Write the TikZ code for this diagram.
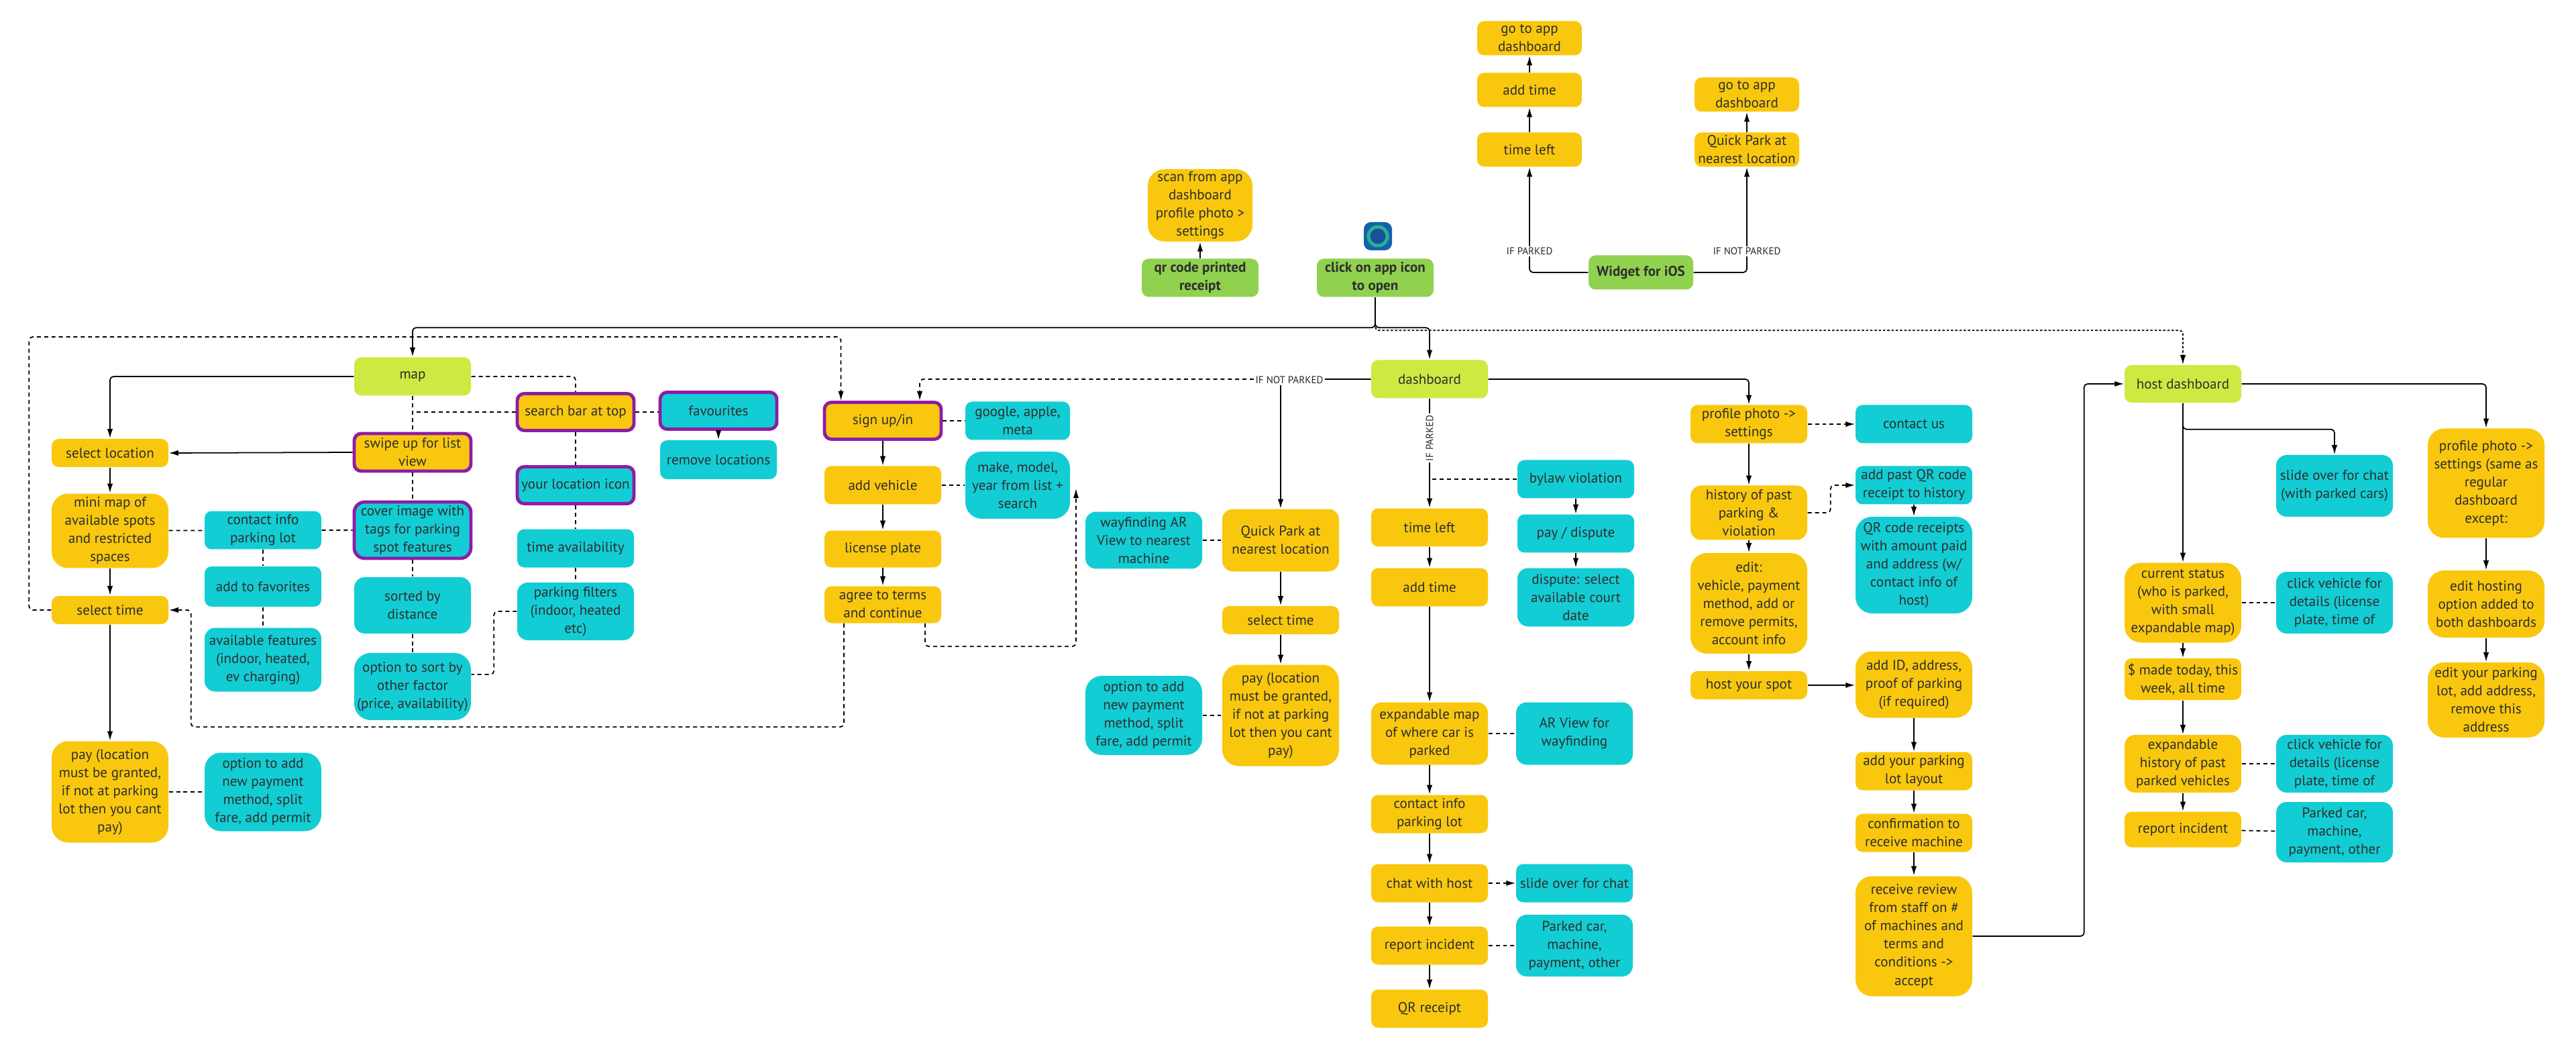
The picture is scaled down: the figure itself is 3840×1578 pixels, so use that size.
\documentclass[tikz,border=0pt]{standalone}
\usepackage{fontspec}
\setmainfont{PT Sans}
\usepackage{xcolor}
\usetikzlibrary{arrows.meta,calc}
\definecolor{yel}{HTML}{F9C80E}
\definecolor{cyn}{HTML}{13CDD4}
\definecolor{lim}{HTML}{D0E842}
\definecolor{grn}{HTML}{90D24F}
\definecolor{prp}{HTML}{8E1CA8}
\definecolor{icb}{HTML}{1262AC}
\definecolor{icr}{HTML}{27B28E}
\definecolor{ici}{HTML}{1B4F9B}

\begin{document}
\begin{tikzpicture}[x=0.1mm,y=-0.1mm,
	box/.style={rounded corners=3pt,minimum width=17.4mm,align=center,inner sep=1pt,text=black!82,font=\fontsize{6pt}{7.7pt}\selectfont},
	yb/.style={box,fill=yel},
	cb/.style={box,fill=cyn},
	lb/.style={box,fill=lim},
	gb/.style={box,fill=grn,font=\bfseries\fontsize{6pt}{7.7pt}\selectfont},
	pb/.style={draw=prp,line width=1.4pt},
	mid/.style={rounded corners=4.5pt},
	tall/.style={rounded corners=7pt},
	nar/.style={minimum width=15.6mm},
	arr/.style={-{Latex[length=4pt,width=2.4pt]},line width=0.5pt,rounded corners=1.5pt},
	dsh/.style={line width=0.5pt,dash pattern=on 1.7pt off 1.4pt,rounded corners=1.5pt},
	dot/.style={line width=0.5pt,dash pattern=on 1pt off 0.8pt,rounded corners=1.5pt},
	lbl/.style={fill=white,inner sep=0.6pt,text=black!85,font=\fontsize{4.3pt}{5pt}\selectfont}]
	\useasboundingbox (0,0) rectangle (3840,1578);
	\node[yb,nar,tall,minimum height=10.1mm] (scan) at (1789,306) {scan from app\\dashboard\\profile photo >\\settings};
	\node[gb,minimum height=5.7mm] (qr) at (1789,414) {qr code printed\\receipt};
	\node[gb,minimum height=5.7mm] (click) at (2050,414) {click on app icon\\to open};
	\node[rounded corners=3pt,fill=icb,minimum size=4.2mm,inner sep=0pt] (icon) at (2054,352) {};
	\fill[icr] (icon.center) circle (1.65mm);
	\fill[ici] (icon.center) circle (1.15mm);
	\node[yb,nar,minimum height=5.1mm] (goapp1) at (2280,57) {go to app\\dashboard};
	\node[yb,nar,minimum height=5.1mm] (addtime1) at (2280,134) {add time};
	\node[yb,nar,minimum height=5.1mm] (tleft1) at (2280,223) {time left};
	\node[yb,nar,minimum height=5.1mm] (goapp2) at (2604,141) {go to app\\dashboard};
	\node[yb,nar,minimum height=5.1mm] (qpark1) at (2604,223) {Quick Park at\\nearest location};
	\node[gb,nar,minimum height=5.1mm] (widget) at (2446,406) {Widget for iOS};

	\node[lb,minimum height=5.7mm] (map) at (615,561) {map};
	\node[yb,minimum height=4.2mm] (selloc) at (164,675) {select location};
	\node[yb,pb,minimum height=5.6mm] (swipe) at (615,674) {swipe up for list\\view};
	\node[yb,pb,minimum height=5.5mm] (search) at (858,614) {search bar at top};
	\node[cb,pb,minimum height=5.5mm] (fav) at (1071,612) {favourites};
	\node[cb,minimum height=5.8mm] (remloc) at (1071,685) {remove locations};
	\node[cb,pb,minimum height=5.5mm] (yourloc) at (858,723) {your location icon};
	\node[cb,minimum height=5.7mm] (timeav) at (858,817) {time availability};
	\node[cb,mid,minimum height=8.6mm] (filters) at (858,911) {parking filters\\(indoor, heated\\etc)};
	\node[yb,tall,minimum height=11.1mm] (minimap) at (164,791) {mini map of\\available spots\\and restricted\\spaces};
	\node[cb,minimum height=5.7mm] (contact1) at (392,790) {contact info\\parking lot};
	\node[cb,pb,mid,minimum height=8.4mm] (cover) at (615,790) {cover image with\\tags for parking\\spot features};
	\node[cb,minimum height=6mm] (addfav) at (392,874) {add to favorites};
	\node[cb,mid,minimum height=8.4mm] (sorted) at (615,902) {sorted by\\distance};
	\node[yb,minimum height=4.2mm] (seltime1) at (164,909) {select time};
	\node[cb,mid,minimum height=9.5mm] (features) at (392,983) {available features\\(indoor, heated,\\ev charging)};
	\node[cb,tall,minimum height=10mm] (sortopt) at (615,1023) {option to sort by\\other factor\\(price, availability)};
	\node[yb,tall,minimum height=15.1mm] (pay1) at (164,1180) {pay (location\\must be granted,\\if not at parking\\lot then you cant\\pay)};
	\node[cb,tall,minimum height=11.7mm] (payopt1) at (392,1180) {option to add\\new payment\\method, split\\fare, add permit};

	\node[yb,pb,minimum height=5.5mm] (signup) at (1316,627) {sign up/in};
	\node[cb,nar,minimum height=5.7mm] (google) at (1517,627) {google, apple,\\meta};
	\node[yb,minimum height=5.7mm] (vehicle) at (1316,723) {add vehicle};
	\node[cb,nar,tall,minimum height=10mm] (make) at (1517,723) {make, model,\\year from list +\\search};
	\node[yb,minimum height=5.5mm] (plate) at (1316,818) {license plate};
	\node[yb,minimum height=5.5mm] (agree) at (1316,901) {agree to terms\\and continue};
	\node[cb,mid,minimum height=8.5mm] (wayfind) at (1705,805) {wayfinding AR\\View to nearest\\machine};
	\node[yb,mid,minimum height=9.3mm] (qpark2) at (1909,805) {Quick Park at\\nearest location};
	\node[yb,minimum height=4.2mm] (seltime2) at (1909,924) {select time};
	\node[yb,tall,minimum height=15.1mm] (pay2) at (1909,1066) {pay (location\\must be granted,\\if not at parking\\lot then you cant\\pay)};
	\node[cb,tall,minimum height=11.8mm] (payopt2) at (1705,1066) {option to add\\new payment\\method, split\\fare, add permit};

	\node[lb,minimum height=5.7mm] (dash) at (2131,565) {dashboard};
	\node[yb,minimum height=5.7mm] (tleft2) at (2131,786) {time left};
	\node[yb,minimum height=5.7mm] (addtime2) at (2131,875) {add time};
	\node[cb,minimum height=5.7mm] (bylaw) at (2349,714) {bylaw violation};
	\node[cb,minimum height=5.7mm] (paydisp) at (2349,795) {pay / dispute};
	\node[cb,mid,minimum height=8.7mm] (dispute) at (2349,890) {dispute: select\\available court\\date};
	\node[yb,mid,minimum height=9.3mm] (expmap) at (2131,1093) {expandable map\\of where car is\\parked};
	\node[cb,mid,minimum height=9.3mm] (arview) at (2347,1093) {AR View for\\wayfinding};
	\node[yb,minimum height=5.7mm] (contact2) at (2131,1213) {contact info\\parking lot};
	\node[yb,minimum height=5.7mm] (chat) at (2131,1316) {chat with host};
	\node[cb,minimum height=5.7mm] (slide1) at (2347,1316) {slide over for chat};
	\node[yb,minimum height=5.7mm] (report1) at (2131,1409) {report incident};
	\node[cb,mid,minimum height=9.2mm] (parked1) at (2347,1409) {Parked car,\\machine,\\payment, other};
	\node[yb,minimum height=5.7mm] (qrrec) at (2131,1503) {QR receipt};

	\node[yb,minimum height=5.7mm] (profile) at (2607,632) {profile photo ->\\settings};
	\node[cb,minimum height=5.7mm] (contactus) at (2853,632) {contact us};
	\node[yb,mid,minimum height=8.1mm] (history) at (2607,764) {history of past\\parking \&\\violation};
	\node[cb,minimum height=5.7mm] (addpast) at (2853,723) {add past QR code\\receipt to history};
	\node[cb,tall,minimum height=14.4mm] (qrcodes) at (2853,842) {QR code receipts\\with amount paid\\and address (w/\\contact info of\\host)};
	\node[yb,tall,minimum height=15mm] (edit) at (2607,899) {edit:\\vehicle, payment\\method, add or\\remove permits,\\account info};
	\node[yb,minimum height=4.2mm] (hostspot) at (2607,1021) {host your spot};
	\node[yb,tall,minimum height=9.9mm] (addid) at (2853,1020) {add ID, address,\\proof of parking\\(if required)};
	\node[yb,minimum height=5.7mm] (layout) at (2853,1149) {add your parking\\lot layout};
	\node[yb,minimum height=5.7mm] (confirm) at (2853,1241) {confirmation to\\receive machine};
	\node[yb,tall,minimum height=17.9mm] (review) at (2853,1395) {receive review\\from staff on \#\\of machines and\\terms and\\conditions ->\\accept};

	\node[lb,minimum height=5.6mm] (host) at (3254,572) {host dashboard};
	\node[cb,mid,minimum height=9.2mm] (slide2) at (3480,724) {slide over for chat\\(with parked cars)};
	\node[yb,tall,minimum height=16.3mm] (profile2) at (3706,720) {profile photo ->\\settings (same as\\regular\\dashboard\\except:};
	\node[yb,tall,minimum height=11.9mm] (current) at (3254,898) {current status\\(who is parked,\\with small\\expandable map)};
	\node[cb,mid,minimum height=9.2mm] (click1) at (3480,898) {click vehicle for\\details (license\\plate, time of};
	\node[yb,tall,minimum height=10mm] (edithost) at (3706,900) {edit hosting\\option added to\\both dashboards};
	\node[yb,minimum height=6.2mm] (made) at (3254,1012) {\$ made today, this\\week, all time};
	\node[yb,tall,minimum height=11.2mm] (editlot) at (3706,1043) {edit your parking\\lot, add address,\\remove this\\address};
	\node[yb,mid,minimum height=8.6mm] (exphist) at (3254,1138) {expandable\\history of past\\parked vehicles};
	\node[cb,mid,minimum height=8.6mm] (click2) at (3480,1138) {click vehicle for\\details (license\\plate, time of};
	\node[yb,minimum height=5.3mm] (report2) at (3254,1236) {report incident};
	\node[cb,mid,minimum height=9mm] (parked2) at (3480,1240) {Parked car,\\machine,\\payment, other};

	\coordinate (mkend) at (1604,728);

	\draw[arr] (qr) -- (scan);
	\draw[arr] (tleft1) -- (addtime1);
	\draw[arr] (addtime1) -- (goapp1);
	\draw[arr] (qpark1) -- (goapp2);
	\draw[arr] (widget.west) -| (tleft1.south) node[lbl,pos=0.6] {IF PARKED};
	\draw[arr] (widget.east) -| (qpark1.south) node[lbl,pos=0.6] {IF NOT PARKED};
	\draw[arr] (click.south) -- ++(0,45) -| (map.north);
	\draw[arr] (click.south) -- ++(0,45) -| (dash.north);
	\draw[dot,arr] (click.south) -- ++(0,49) -| (host.north);

	\draw[arr] (map.west) -| (selloc.north);
	\draw[arr] (swipe.west) -- (selloc.east);
	\draw[arr] (selloc) -- (minimap);
	\draw[arr] (minimap) -- (seltime1);
	\draw[arr] (seltime1) -- (pay1);
	\draw[dsh] (map) -- (swipe) -- (cover) -- (sorted) -- (sortopt);
	\draw[dsh] (map.east) -| (search.north);
	\draw[dsh] (search.west) -- (search.west -| map.south);
	\draw[dsh] (search) -- (yourloc) -- (timeav) -- (filters);
	\draw[dsh] (search.east) -- (fav.west |- search.east);
	\draw[arr] (fav) -- (remloc);
	\draw[dsh] (filters.west) -- ++(-34,0) |- ([yshift=1.8mm]sortopt.east);
	\draw[dsh] (minimap) -- (contact1) -- (cover);
	\draw[dsh] (contact1) -- (addfav) -- (features);
	\draw[dsh] (pay1) -- (payopt1);
	\draw[dsh,arr] ([xshift=-5.8mm]agree.south) -- ++(0,154) -| ($(seltime1.east)+(33,0)$) -- (seltime1.east);
	\draw[dsh,arr] ([xshift=6.3mm]agree.south) -- ++(0,34) -| (mkend);
	\draw[dsh,arr] (seltime1.west) -- ++(-33,0) |- ($(signup.north west)+(27,-95)$) -- ($(signup.north west)+(27,0)$);

	\draw[arr] (signup) -- (vehicle);
	\draw[arr] (vehicle) -- (plate);
	\draw[arr] (plate) -- (agree);
	\draw[dsh] (signup) -- (google);
	\draw[dsh] (vehicle) -- (make);
	\draw[dsh,arr] (dash.west) -| ($(signup.north)+(55,0)$);
	\draw[arr] (dash.west) -| (qpark2.north);
	\node[lbl] (ifnp) at (1922,566) {IF NOT PARKED};
	\draw[arr] (qpark2) -- (seltime2);
	\draw[arr] (seltime2) -- (pay2);
	\draw[dsh] (wayfind) -- (qpark2);
	\draw[dsh] (payopt2) -- (pay2);

	\draw[arr] (dash) -- (tleft2) node[lbl,rotate=90,pos=0.36] {IF PARKED};
	\draw[dsh] (bylaw.west) -- (bylaw.west -| dash.south);
	\draw[arr] (bylaw) -- (paydisp);
	\draw[arr] (paydisp) -- (dispute);
	\draw[arr] (tleft2) -- (addtime2);
	\draw[arr] (addtime2) -- (expmap);
	\draw[arr] (expmap) -- (contact2);
	\draw[arr] (contact2) -- (chat);
	\draw[arr] (chat) -- (report1);
	\draw[arr] (report1) -- (qrrec);
	\draw[dsh] (expmap) -- (arview);
	\draw[dsh,arr] (chat) -- (slide1);
	\draw[dsh] (report1) -- (parked1);

	\draw[arr] (dash.east) -| (profile.north);
	\draw[dsh,arr] (profile) -- (contactus);
	\draw[arr] (profile) -- (history);
	\draw[arr] (history) -- (edit);
	\draw[arr] (edit) -- (hostspot);
	\draw[dsh,arr] (history.east) -- ++(34,0) |- (addpast.west);
	\draw[arr] (addpast) -- (qrcodes);
	\draw[arr] (hostspot.east) -- (addid.west |- hostspot.east);
	\draw[arr] (addid) -- (layout);
	\draw[arr] (layout) -- (confirm);
	\draw[arr] (confirm) -- (review);
	\draw[arr] (review.east) -- ++(166,0) |- (host.west);

	\draw[arr] (host) -- (current);
	\draw[arr] (host.south) -- ++(0,39) -| (slide2.north);
	\draw[arr] (host.east) -| (profile2.north);
	\draw[dsh] (current) -- (click1);
	\draw[arr] (current) -- (made);
	\draw[arr] (made) -- (exphist);
	\draw[arr] (exphist) -- (report2);
	\draw[dsh] (exphist) -- (click2);
	\draw[dsh] (report2) -- (parked2);
	\draw[arr] (profile2) -- (edithost);
	\draw[arr] (edithost) -- (editlot);
\end{tikzpicture}
\end{document}
